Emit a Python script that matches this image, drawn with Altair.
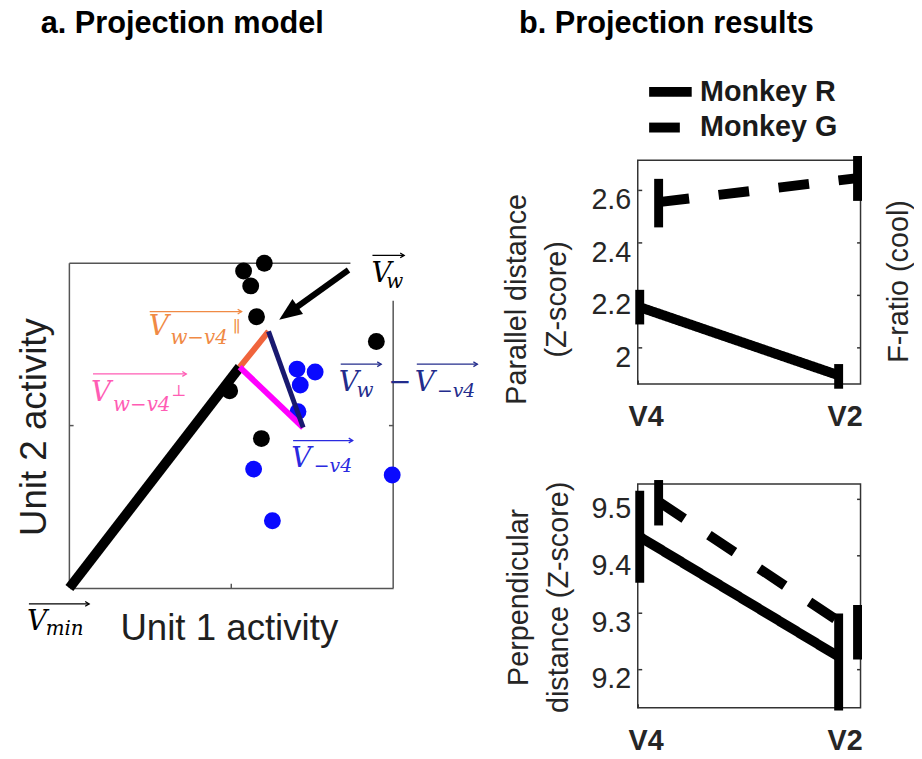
import math
import altair as alt
import pandas as pd

# ---------------- panel a: projection model (box spans [0,1] x [0,1]) ----------------
black_x = [0.602, 0.538, 0.560, 0.578, 0.948, 0.495, 0.593]
black_y = [1.000, 0.976, 0.930, 0.835, 0.759, 0.607, 0.460]
blue_x = [0.703, 0.759, 0.713, 0.706, 0.569, 0.997, 0.627]
blue_y = [0.674, 0.665, 0.625, 0.543, 0.366, 0.348, 0.207]

p_min = [0.0, 0.0]
p_foot = [0.526, 0.680]
p_w = [0.615, 0.790]
p_v4 = [0.722, 0.494]
arrow_from = [0.862, 0.979]
arrow_to = [0.648, 0.826]

ORANGE_T, ORANGE_S = "#f08a45", "#f0643c"
PINK_T, PINK_S = "#ff5cb4", "#ff00ff"
NAVY_T, NAVY_S = "#232c8c", "#191970"
BLUE_T, BLUE_D = "#2a2ae0", "#0a0aff"

# math labels: (text, x, y, colour, font size)
italic_labels = [
    ("V", 0.933, 0.942, "black", 28), ("w", 0.979, 0.924, "black", 20),
    ("V", 0.245, 0.780, ORANGE_T, 28), ("w\u2212v4", 0.312, 0.750, ORANGE_T, 20),
    ("V", 0.067, 0.576, PINK_T, 28), ("w\u2212v4", 0.135, 0.546, PINK_T, 20),
    ("V", 0.832, 0.607, NAVY_T, 28), ("w", 0.887, 0.588, NAVY_T, 20),
    ("V", 1.067, 0.607, NAVY_T, 28), ("\u2212v4", 1.135, 0.588, NAVY_T, 19),
    ("V", 0.685, 0.372, BLUE_T, 28), ("\u2212v4", 0.755, 0.357, BLUE_T, 19),
    ("V", -0.131, -0.128, "black", 28), ("min", -0.073, -0.146, "black", 20),
]
upright_labels = [
    ("\u2225", 0.505, 0.787, ORANGE_T, 16),
    ("\u22a5", 0.315, 0.591, PINK_T, 16),
    ("\u2212", 0.985, 0.607, NAVY_T, 28),
]
# vector over-arrows: (colour, x start, x end, y)
over_arrows = [
    ("black", 0.936, 1.034, 1.024),
    (ORANGE_T, 0.248, 0.532, 0.851),
    (PINK_T, 0.073, 0.361, 0.659),
    (NAVY_T, 0.838, 0.963, 0.689),
    (NAVY_T, 1.073, 1.260, 0.689),
    (BLUE_T, 0.691, 0.875, 0.454),
    ("black", -0.125, 0.061, -0.049),
]

# ---------------- panel b: projection results ----------------
areas = ["V4", "V2"]
monkeys = ["Monkey R", "Monkey G"]
dodge = [0.01, 0.105]
par_mean = {"Monkey R": [2.153, 1.893], "Monkey G": [2.553, 2.645]}
par_lo = {"Monkey R": [2.087, 1.842], "Monkey G": [2.457, 2.558]}
par_hi = {"Monkey R": [2.219, 1.936], "Monkey G": [2.642, 2.729]}
perp_mean = {"Monkey R": [9.433, 9.222], "Monkey G": [9.495, 9.262]}
perp_lo = {"Monkey R": [9.352, 9.127], "Monkey G": [9.453, 9.217]}
perp_hi = {"Monkey R": [9.514, 9.298], "Monkey G": [9.533, 9.313]}
par_ticks = [2.0, 2.2, 2.4, 2.6]
perp_ticks = [9.2, 9.3, 9.4, 9.5]

SANS = "Liberation Sans"
SERIF = "DejaVu Serif"
TXT = "#262626"

# ================= panel a =================
xA = alt.Scale(domain=[0, 1], nice=False, zero=False)
yA = alt.Scale(domain=[0, 432 / 328], nice=False, zero=False)
axA_x = alt.Axis(title="Unit 1 activity", labels=False, ticks=False, grid=False,
                 domain=True, domainColor="#555555", domainWidth=1.5,
                 titleFont=SANS, titleFontSize=37, titleFontWeight="normal",
                 titleColor="#1f1f1f", titleX=161, titleY=52,
                 titleBaseline="alphabetic", titleAlign="center")
axA_y = alt.Axis(title="Unit 2 activity", labels=False, ticks=False, grid=False,
                 domain=False, titleFont=SANS, titleFontSize=37,
                 titleFontWeight="normal", titleColor="#1f1f1f", titleAngle=270,
                 titleX=-24, titleY=269, titleBaseline="alphabetic",
                 titleAlign="center")


def XA(f="x"):
    return alt.X(f"{f}:Q", scale=xA, axis=axA_x)


def YA(f="y"):
    return alt.Y(f"{f}:Q", scale=yA, axis=axA_y)


dots = pd.DataFrame({
    "x": black_x + blue_x,
    "y": black_y + blue_y,
    "c": ["black"] * len(black_x) + [BLUE_D] * len(blue_x),
})

segments = pd.DataFrame([
    dict(x=p_min[0], y=p_min[1], x2=p_foot[0], y2=p_foot[1], c="black", w=10),
    dict(x=p_foot[0], y=p_foot[1], x2=p_w[0], y2=p_w[1], c=ORANGE_S, w=6),
    dict(x=p_foot[0], y=p_foot[1], x2=p_v4[0], y2=p_v4[1], c=PINK_S, w=6),
    dict(x=p_w[0], y=p_w[1], x2=p_v4[0], y2=p_v4[1], c=NAVY_S, w=5),
])

line_end = [arrow_to[0] + 0.13 * (arrow_from[0] - arrow_to[0]),
            arrow_to[1] + 0.13 * (arrow_from[1] - arrow_to[1])]
big_arrow = pd.DataFrame([dict(x=arrow_from[0], y=arrow_from[1],
                               x2=line_end[0], y2=line_end[1])])
big_head = pd.DataFrame([dict(x=arrow_to[0], y=arrow_to[1])])
head_angle = math.degrees(math.atan2(-(arrow_to[1] - arrow_from[1]),
                                     arrow_to[0] - arrow_from[0])) % 360

border = pd.DataFrame([
    dict(x=0, y=1, x2=0.868, y2=1),
    dict(x=1, y=0, x2=1, y2=0.884),
    dict(x=0, y=0, x2=0, y2=1),
    dict(x=0.5, y=0, x2=0.5, y2=0.013),
    dict(x=0, y=0.5, x2=0.013, y2=0.5),
    dict(x=1, y=0.5, x2=0.987, y2=0.5),
])

ov = pd.DataFrame([dict(c=c, x=a, x2=b, y=y) for c, a, b, y in over_arrows])
it = pd.DataFrame([dict(t=t, x=x, y=y, c=c, s=s) for t, x, y, c, s in italic_labels])
up = pd.DataFrame([dict(t=t, x=x, y=y, c=c, s=s) for t, x, y, c, s in upright_labels])

colorNone = alt.Color("c:N", scale=None)

lay_border = alt.Chart(border).mark_rule(color="#555555", strokeWidth=1.5).encode(
    x=XA(), y=YA(), x2="x2:Q", y2="y2:Q")
lay_dots = alt.Chart(dots).mark_circle(size=290, opacity=1).encode(
    x=XA(), y=YA(), color=colorNone)
lay_seg = alt.Chart(segments).mark_rule(strokeCap="butt").encode(
    x=XA(), y=YA(), x2="x2:Q", y2="y2:Q", color=colorNone,
    strokeWidth=alt.StrokeWidth("w:Q", scale=None))
lay_arrow = alt.Chart(big_arrow).mark_rule(color="black", strokeWidth=6,
                                           strokeCap="butt").encode(
    x=XA(), y=YA(), x2="x2:Q", y2="y2:Q")
lay_head = alt.Chart(big_head).mark_point(
    shape="M0,0L-2,-0.8L-2,0.8Z", filled=True, size=529, color="black",
    opacity=1, angle=head_angle).encode(x=XA(), y=YA())
lay_ov = alt.Chart(ov).mark_rule(strokeWidth=1.3).encode(
    x=XA(), x2="x2:Q", y=YA(), color=colorNone)
lay_ovh = alt.Chart(ov).mark_point(
    shape="M-1,-0.6L0,0L-1,0.6", filled=False, size=64, strokeWidth=1.3,
    opacity=1).encode(x=XA("x2"), y=YA(), color=colorNone)
lay_it = alt.Chart(it).mark_text(font=SERIF, fontStyle="italic", align="left",
                                 baseline="alphabetic").encode(
    x=XA(), y=YA(), text="t:N", color=colorNone,
    size=alt.Size("s:Q", scale=None))
lay_up = alt.Chart(up).mark_text(font=SERIF, align="left",
                                 baseline="alphabetic").encode(
    x=XA(), y=YA(), text="t:N", color=colorNone,
    size=alt.Size("s:Q", scale=None))

TITLE_KW = dict(anchor="start", frame="group", font=SANS,
                fontSize=31, fontWeight="bold", color="black", baseline="alphabetic")

panel_a = alt.layer(lay_border, lay_dots, lay_seg, lay_arrow, lay_head, lay_ov,
                    lay_ovh, lay_it, lay_up).properties(
    width=327, height=432,
    view=alt.ViewBackground(stroke="transparent"),
    title=alt.TitleParams("a. Projection model", dx=-29, offset=97, **TITLE_KW))

# ================= panel b =================
xB = alt.Scale(domain=[0, 1.12], nice=False, zero=False)
axB_x = alt.Axis(values=[0, 1], labelExpr=f"{areas}[datum.value]", orient="bottom",
                 offset=-4, tickSize=4, tickWidth=1.5, tickColor="#333333",
                 domain=False, grid=False, labelFont=SANS, labelFontWeight="bold",
                 labelFontSize=29, labelColor=TXT, labelPadding=19, labelOffset=8,
                 labelFlush=False, title=None)


def b_frame(mean, lo, hi):
    rows = []
    for m, d in zip(monkeys, dodge):
        for i, a in enumerate(areas):
            rows.append(dict(monkey=m, area=a, pos=i + d, mean=mean[m][i],
                             lo=lo[m][i], hi=hi[m][i]))
    return pd.DataFrame(rows)


def b_panel(df, ydom, yticks, ytitle, tx, ty, right_title, rtx, rty, legend):
    ys = alt.Scale(domain=ydom, nice=False, zero=False)
    left = alt.Axis(values=yticks, format="~g", orient="left", offset=-4,
                    tickSize=4, tickWidth=1.5, tickColor="#333333", domain=False,
                    grid=False, labelFont=SANS, labelFontSize=29, labelColor=TXT,
                    labelPadding=7, labelOffset=10, title=ytitle, titleFont=SANS,
                    titleFontSize=29, titleFontWeight="normal", titleColor=TXT,
                    titleAngle=270, titleX=tx, titleY=ty, titleBaseline="middle",
                    titleAlign="center", titleLineHeight=40)
    right = alt.Axis(values=yticks, orient="right", offset=-4, tickSize=4,
                     tickWidth=1.5, tickColor="#333333", domain=False, grid=False,
                     labels=False, title=right_title, titleFont=SANS,
                     titleFontSize=29, titleFontWeight="normal", titleColor=TXT,
                     titleAngle=270, titleX=rtx, titleY=rty,
                     titleBaseline="middle", titleAlign="center")
    x = alt.X("pos:Q", scale=xB, axis=axB_x)
    line = alt.Chart(df).mark_line(color="black", strokeWidth=10,
                                   strokeCap="butt").encode(
        x=x, y=alt.Y("mean:Q", scale=ys, axis=left),
        strokeDash=alt.StrokeDash("monkey:N",
                                  scale=alt.Scale(domain=monkeys,
                                                  range=[[1, 0], [31, 30]]),
                                  legend=legend))
    bars = alt.Chart(df).mark_rule(color="black", strokeWidth=9,
                                   strokeCap="butt").encode(
        x=x, y=alt.Y("lo:Q", scale=ys, axis=right), y2="hi:Q")
    return alt.layer(line, bars).resolve_axis(y="independent").properties(
        width=225, height=226,
        view=alt.ViewBackground(stroke="#333333", strokeWidth=1.5))


legend_b = alt.Legend(orient="none", legendX=17, legendY=-85, title=None,
                      symbolType="M-2,0H2", symbolSize=462, symbolStrokeWidth=10,
                      symbolStrokeColor="black", symbolFillColor="transparent",
                      labelFont=SANS, labelFontWeight="bold", labelFontSize=29,
                      labelColor="#1a1a1a", labelOffset=14, rowPadding=-13, padding=0)

b1 = b_panel(b_frame(par_mean, par_lo, par_hi), [1.86, 2.713], par_ticks,
             ["Parallel distance", "(Z-score)"], -126, 140,
             "F-ratio (cool)", 42, 122, legend_b).properties(
    title=alt.TitleParams("b. Projection results", dx=-120, offset=12, **TITLE_KW))
b2 = b_panel(b_frame(perp_mean, perp_lo, perp_hi), [9.132, 9.526], perp_ticks,
             ["Perpendicular", "distance (Z-score)"], -124, 114,
             None, 42, 114, None)

col_b = alt.vconcat(b1, b2, spacing=101, bounds="flush").resolve_scale(
    strokeDash="independent")

chart = alt.hconcat(panel_a, col_b, spacing=247, bounds="flush").resolve_scale(
    strokeDash="independent").properties(
    padding={"left": 7, "top": -4, "right": 0, "bottom": 0},
    background="white",
).configure_view(stroke="transparent")

chart.save("out.html", embed_options={"renderer": "svg", "actions": False})
